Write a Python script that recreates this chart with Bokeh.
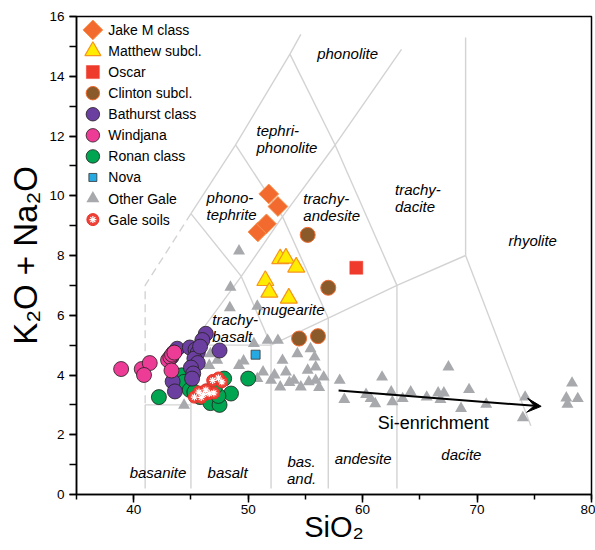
import math
from bokeh.plotting import figure
from bokeh.models import Range1d, SingleIntervalTicker, Label, Arrow, VeeHead
from bokeh.embed import file_html
from bokeh.resources import INLINE
from bokeh.core.properties import value

FONT = "Liberation Sans"

# ---------------- data ----------------
jake_x = [51.8, 52.6, 50.85, 51.6]
jake_y = [10.06, 9.64, 8.79, 9.06]

matthew_x = [52.8, 53.3, 54.2, 51.5, 51.85, 53.55]
matthew_y = [7.89, 7.91, 7.61, 7.16, 6.77, 6.57]

oscar_x = [59.45]
oscar_y = [7.59]

clinton_x = [55.2, 57.0, 54.45, 56.1]
clinton_y = [8.69, 6.92, 5.22, 5.30]

bathurst_x = [46.3, 46.0, 47.5, 43.8, 43.5, 43.3, 44.9, 45.4, 45.6, 45.3, 45.6, 45.0, 45.2, 45.1, 43.4, 43.6, 45.8]
bathurst_y = [5.38, 5.17, 4.82, 4.88, 4.75, 4.60, 4.92, 4.85, 4.75, 4.55, 4.40, 4.25, 4.05, 3.88, 3.78, 3.45, 4.95]

windjana_x = [38.9, 40.7, 41.4, 40.9, 43.0, 43.2, 43.35, 43.55, 43.3]
windjana_y = [4.20, 4.20, 4.40, 4.00, 4.50, 4.60, 4.68, 4.75, 4.15]

ronan_x = [42.2, 44.2, 44.4, 44.9, 45.8, 46.7, 47.5, 47.9, 48.5, 50.0, 47.4, 45.3, 46.4, 47.1]
ronan_y = [3.26, 3.99, 3.77, 3.50, 3.26, 3.06, 3.00, 3.88, 3.38, 3.88, 3.30, 3.43, 3.45, 3.60]

nova_x = [50.65]
nova_y = [4.68]

other_x = [49.2, 48.45, 48.4, 50.8, 46.7, 47.3, 46.6, 49.2, 49.6, 50.5, 51.7, 52.6,
           50.8, 52.0, 52.8, 54.0, 54.6, 53.0, 54.3, 55.45, 55.8, 55.9, 55.2, 55.3,
           55.9, 56.2, 56.6, 58.0, 58.4, 60.3, 60.7, 61.1, 61.7, 62.5, 62.6, 63.5,
           64.2, 65.6, 66.6, 67.1, 66.8, 67.5, 68.6, 69.3, 70.8, 74.2, 74.0, 78.3,
           77.8, 78.8, 77.9, 44.4, 51.3, 53.3, 52.3, 53.6]
other_y = [8.15, 6.94, 6.25, 6.30, 4.71, 4.49, 4.32, 4.32, 4.47, 5.05, 5.16, 5.16,
           3.88, 3.82, 3.60, 3.82, 3.60, 4.49, 4.71, 4.88, 4.60, 4.27, 4.16, 3.77,
           3.82, 3.58, 3.93, 3.82, 3.18, 3.35, 3.21, 3.04, 3.93, 3.43, 3.10, 3.21,
           3.43, 3.26, 3.40, 3.40, 3.18, 4.27, 2.88, 3.51, 3.02, 3.26, 2.57, 3.73,
           3.23, 3.21, 3.02, 2.99, 4.10, 4.10, 4.00, 3.75]

soils_x = [46.9, 47.7, 47.4, 45.3, 45.7, 46.1, 46.6, 47.0, 46.3, 45.9]
soils_y = [3.82, 3.77, 3.90, 3.26, 3.43, 3.35, 3.38, 3.40, 3.50, 3.25]

# TAS field boundaries
bound_xs = [[41, 41, 45], [45, 45], [45, 52], [52, 52], [52, 57, 63, 69], [57, 57],
            [63, 63], [69, 74.7], [69, 69], [45, 49.4, 53, 57.6, 63.4], [49.4, 52],
            [53, 57], [57.6, 63], [45, 48.9, 53.65, 54.6], [48.9, 53], [53.65, 57.6],
            [45, 49.4]]
bound_ys = [[0.2, 3, 3], [0.2, 5], [5, 5], [0.2, 5], [5, 5.9, 7, 8], [0.2, 5.9],
            [0.2, 7], [8, 2.3], [8, 15.3], [5, 7.3, 9.3, 11.7, 14.9], [7.3, 5],
            [9.3, 5.9], [11.7, 7], [9.4, 11.7, 14.74, 15.4], [11.7, 9.3], [14.74, 11.7],
            [9.4, 7.3]]
dash_x = [45, 41, 41]
dash_y = [9.4, 7, 3]

field_names = ["phonolite", "tephri-\nphonolite", "phono-\ntephrite", "trachy-\nandesite",
               "trachy-\ndacite", "mugearite", "trachy-\nbasalt"]
field_x = [58.69, 50.73, 46.37, 54.82, 62.83, 50.85, 46.86]
field_y = [14.76, 11.90, 9.66, 9.62, 9.94, 6.20, 5.56]
field_align = ["center", "left", "left", "left", "left", "left", "left"]

low_names = ["rhyolite", "basanite", "basalt", "bas.\nand.", "andesite", "dacite"]
low_x = [74.87, 42.12, 48.2, 54.67, 60.05, 68.63]
low_y = [8.5, 0.72, 0.72, 0.83, 1.2, 1.34]

arrow_start = (57.9, 3.48)
arrow_end = (75.6, 2.95)

# ---------------- figure ----------------
p = figure(width=595, height=550, x_range=Range1d(35, 80), y_range=Range1d(0, 16),
           output_backend="svg", toolbar_location=None,
           min_border_left=76, min_border_right=4, min_border_top=16, min_border_bottom=56)
p.background_fill_color = "white"
p.border_fill_color = "white"
p.grid.visible = False
p.outline_line_color = "black"
p.outline_line_width = 1.5

p.xaxis.ticker = SingleIntervalTicker(interval=10, num_minor_ticks=2)
p.yaxis.ticker = SingleIntervalTicker(interval=2, num_minor_ticks=2)
for ax in (p.xaxis, p.yaxis):
    ax.axis_line_color = "black"
    ax.axis_line_width = 1.5
    ax.major_tick_line_color = "black"
    ax.minor_tick_line_color = "black"
    ax.major_tick_line_width = 1.5
    ax.minor_tick_line_width = 1.5
    ax.major_tick_in = 0
    ax.minor_tick_in = 0
    ax.major_label_text_font = FONT
    ax.major_label_text_font_size = "13.5px"
    ax.major_label_text_color = "black"
    ax.axis_label_text_font = FONT
    ax.axis_label_text_font_style = "normal"
    ax.axis_label_text_color = "black"
p.xaxis.major_tick_out = 8
p.xaxis.minor_tick_out = 5
p.yaxis.major_tick_out = 7
p.yaxis.minor_tick_out = 7
p.xaxis.major_label_standoff = 2
p.yaxis.major_label_standoff = 5

p.xaxis.axis_label = "SiO\u2082"
p.xaxis.axis_label_text_font_size = "29px"
p.xaxis.axis_label_standoff = -6
p.yaxis.axis_label = "K\u2082O + Na\u2082O"
p.yaxis.axis_label_text_font_size = "33px"
p.yaxis.axis_label_standoff = 2

# boundaries
p.multi_line(bound_xs, bound_ys, line_color="#d3d3d3", line_width=1.4)
p.line(dash_x, dash_y, line_color="#d3d3d3", line_width=1.4, line_dash="8 5")

# field labels
p.text(field_x, field_y, text=field_names, text_font=value(FONT), text_font_style="italic",
       text_font_size="15px", text_align=field_align, text_baseline="middle",
       text_line_height=1.0, text_color="black")
p.text(low_x, low_y, text=low_names, text_font=value(FONT), text_font_style="italic",
       text_font_size="15px", text_align="center", text_baseline="middle",
       text_line_height=1.0, text_color="black")

# series styles
series = [
    ("Other Gale", other_x, other_y, "triangle", 12, "#a7a9ac", None, 0, 0),
    ("Clinton subcl.", clinton_x, clinton_y, "circle", 15, "#8b5a2b", "#f26a2e", 1, 0),
    ("Oscar", oscar_x, oscar_y, "square", 13, "#ef3b2c", "#ef3b2c", 0.5, 0),
    ("Matthew subcl.", matthew_x, matthew_y, "triangle", 17, "#ffec00", "#f7941d", 1.2, 0),
    ("Jake M class", jake_x, jake_y, "square", 14, "#f26a2e", "#f79552", 1, math.pi / 4),
    ("Nova", nova_x, nova_y, "square", 9, "#27aae1", "#333333", 0.8, 0),
    ("Ronan class", ronan_x, ronan_y, "circle", 15, "#00a551", "#231f20", 0.8, 0),
    ("Bathurst class", bathurst_x, bathurst_y, "circle", 15, "#6b3fa0", "#231f20", 0.8, 0),
    ("Windjana", windjana_x, windjana_y, "circle", 15, "#ec3c96", "#231f20", 0.8, 0),
    ("Gale soils", soils_x, soils_y, "circle", 12, "#ef4136", "#e8312a", 1, 0),
]
style = {s[0]: s[3:] for s in series}

for name, xs, ys, mk, sz, fc, lc, lw, ang in series:
    p.scatter(xs, ys, marker=mk, size=sz, fill_color=fc, line_color=lc, line_width=lw, angle=ang)
    if name == "Gale soils":
        p.scatter(xs, ys, marker="asterisk", size=7, line_color="white", line_width=1.2)

# manual legend (layout positions derived from row index)
legend_order = ["Jake M class", "Matthew subcl.", "Oscar", "Clinton subcl.", "Bathurst class",
                "Windjana", "Ronan class", "Nova", "Other Gale", "Gale soils"]
leg_mx = 36.43
leg_tx = 37.78
leg_y0 = 15.55
leg_dy = 0.7054
leg_sizes = {"Jake M class": 14, "Matthew subcl.": 16, "Oscar": 13, "Clinton subcl.": 13.5,
             "Bathurst class": 13.5, "Windjana": 13.5, "Ronan class": 13.5, "Nova": 8,
             "Other Gale": 13, "Gale soils": 12}
for i, name in enumerate(legend_order):
    mk, sz, fc, lc, lw, ang = style[name]
    yy = leg_y0 - leg_dy * i
    p.scatter([leg_mx], [yy], marker=mk, size=leg_sizes[name], fill_color=fc, line_color=lc,
              line_width=lw, angle=ang)
    if name == "Gale soils":
        p.scatter([leg_mx], [yy], marker="asterisk", size=7, line_color="white", line_width=1.2)
p.text([leg_tx] * len(legend_order), [leg_y0 - leg_dy * i for i in range(len(legend_order))],
       text=legend_order, text_font=value(FONT), text_font_size="14px",
       text_baseline="middle", text_align="left", text_color="black")

# arrow
p.add_layout(Arrow(end=VeeHead(size=14, fill_color="black", line_color="black"),
                   x_start=arrow_start[0], y_start=arrow_start[1],
                   x_end=arrow_end[0], y_end=arrow_end[1],
                   line_color="black", line_width=2))
p.add_layout(Label(x=66.18, y=2.39, text="Si-enrichment", text_font=FONT,
                   text_font_size="18px", text_align="center", text_baseline="middle",
                   text_color="black"))

open("out.html", "w").write(file_html(p, INLINE))
